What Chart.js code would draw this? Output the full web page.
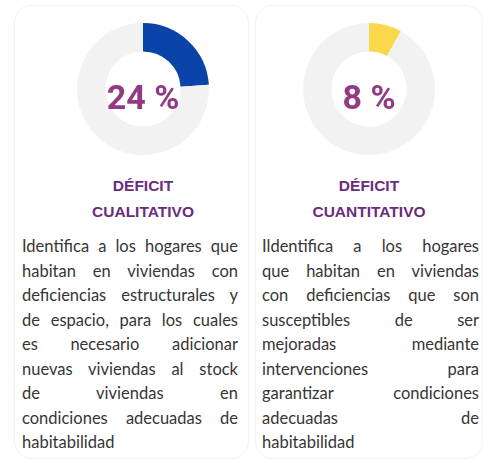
<!DOCTYPE html>
<html>
<head>
<meta charset="utf-8">
<script src="https://cdn.jsdelivr.net/npm/chart.js@4"></script>
<style>
  html, body { margin: 0; padding: 0; background: #fff; }
  body { width: 483px; height: 462px; position: relative; overflow: hidden; font-family: "Lato", "Liberation Sans", sans-serif; }
  .card { position: absolute; top: 5px; height: 452px; border: 1px solid #f3f3f3; border-radius: 18px; box-shadow: 0 0 2px rgba(0,0,0,0.03); }
  .ring { position: absolute; }
  .pct { position: absolute; width: 140px; text-align: center; font-family: "Roboto", sans-serif; font-weight: 700; font-size: 34px; color: #923a84; line-height: 40px; }
  .title { position: absolute; width: 200px; text-align: center; font-family: "Liberation Sans", sans-serif; font-weight: bold; font-size: 15.5px; line-height: 26px; color: #6a2c7e; }
  .desc { position: absolute; font-size: 16.5px; line-height: 24.5px; color: #363636; }
  .desc div { text-align: justify; text-align-last: justify; white-space: nowrap; }
  .desc div.last { text-align-last: left; }
</style>
</head>
<body>
<script>
// valores del gráfico
const categories = ['Déficit cualitativo', 'Déficit cuantitativo'];
const deficitPct = [24, 8];
const sliceColors = ['#0b44a8', '#fbd84b'];
const restColor = '#f2f2f2';
const titleLines = [['DÉFICIT', 'CUALITATIVO'], ['DÉFICIT', 'CUANTITATIVO']];
const descLines = [
  ['Identifica a los hogares que', 'habitan en viviendas con', 'deficiencias estructurales y', 'de espacio, para los cuales',
   'es necesario adicionar', 'nuevas viviendas al stock', 'de viviendas en', 'condiciones adecuadas de', 'habitabilidad'],
  ['Ildentifica a los hogares', 'que habitan en viviendas', 'con deficiencias que son', 'susceptibles de ser',
   'mejoradas mediante', 'intervenciones para', 'garantizar condiciones', 'adecuadas de', 'habitabilidad']
];

// posiciones de cada tarjeta
const cards = [
  { left: 14, width: 233, cx: 143, descLeft: 22, descWidth: 216 },
  { left: 255, width: 226, cx: 369, descLeft: 262, descWidth: 217 }
];
const cy = 89, R = 66;

cards.forEach((c, i) => {
  const card = document.createElement('div');
  card.className = 'card';
  card.style.left = c.left + 'px';
  card.style.width = c.width + 'px';
  document.body.appendChild(card);

  const canvas = document.createElement('canvas');
  canvas.className = 'ring';
  canvas.width = R * 2; canvas.height = R * 2;
  canvas.style.left = (c.cx - R) + 'px';
  canvas.style.top = (cy - R) + 'px';
  canvas.style.width = R * 2 + 'px';
  canvas.style.height = R * 2 + 'px';
  document.body.appendChild(canvas);

  const pct = document.createElement('div');
  pct.className = 'pct';
  pct.textContent = deficitPct[i] + ' %';
  pct.style.left = (c.cx - 70) + 'px';
  pct.style.top = (97 - 20) + 'px';
  document.body.appendChild(pct);

  const title = document.createElement('div');
  title.className = 'title';
  title.innerHTML = titleLines[i].join('<br>');
  title.style.left = (c.cx - 100) + 'px';
  title.style.top = '173px';
  document.body.appendChild(title);

  const desc = document.createElement('div');
  desc.className = 'desc';
  desc.style.left = c.descLeft + 'px';
  desc.style.width = c.descWidth + 'px';
  desc.style.top = '234px';
  desc.innerHTML = descLines[i].map((l, k, a) =>
    `<div class="${k === a.length - 1 ? 'last' : ''}">${l}</div>`).join('');
  document.body.appendChild(desc);

  new Chart(canvas.getContext('2d'), {
    type: 'doughnut',
    data: {
      labels: [categories[i], ''],
      datasets: [{
        data: [deficitPct[i], 100 - deficitPct[i]],
        backgroundColor: [sliceColors[i], restColor],
        borderWidth: 0
      }]
    },
    options: {
      responsive: false,
      animation: false,
      cutout: '57%',
      events: [],
      plugins: { legend: { display: false }, tooltip: { enabled: false } }
    }
  });
});
</script>
</body>
</html>
